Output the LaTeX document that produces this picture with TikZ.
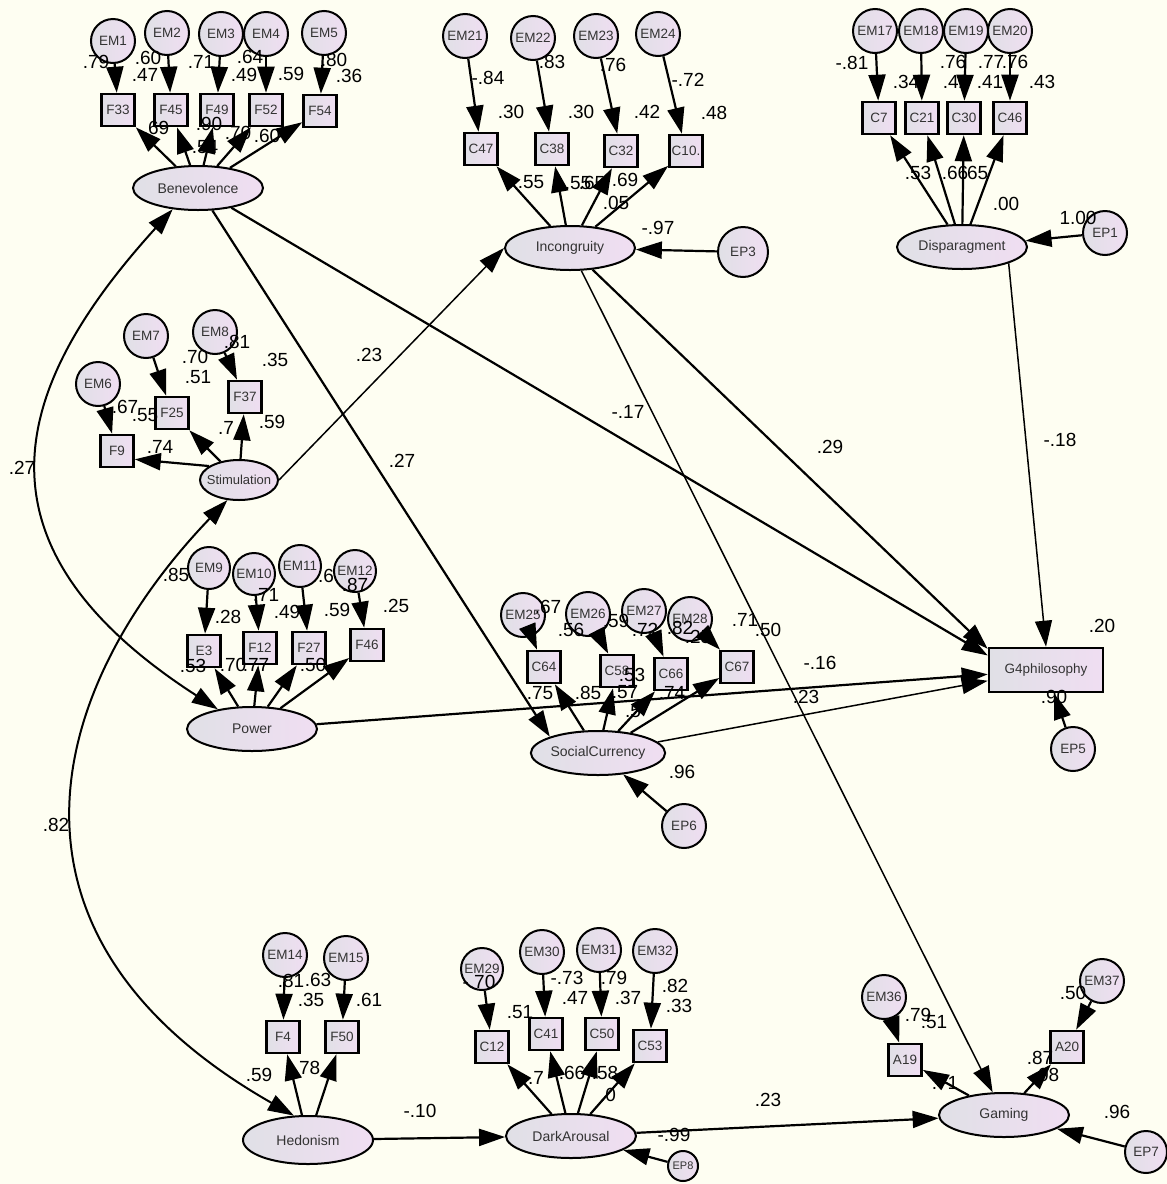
\documentclass[tikz,border=0pt]{standalone}
\usepackage{fontspec}
\setmainfont{Liberation Sans}
\usetikzlibrary{arrows.meta,shapes.geometric}

\definecolor{bgcol}{RGB}{254,254,242}
\definecolor{fillL}{RGB}{224,224,230}
\definecolor{fillR}{RGB}{240,222,242}

\begin{document}
\begin{tikzpicture}[x=1pt, y=-1pt, >={Triangle[length=26pt,width=17pt]},
    every node/.style={text=black!80},
    lat/.style={ellipse, draw, line width=2pt, left color=fillL, right color=fillR,
        minimum width=130pt, minimum height=44pt, inner sep=0pt, font=\fontsize{14}{14}\selectfont},
    obs/.style={rectangle, draw, line width=2.6pt, left color=fillL, right color=fillR,
        minimum width=33pt, minimum height=32pt, inner sep=0pt, font=\fontsize{13.5}{13.5}\selectfont},
    err/.style={circle, draw, line width=2pt, left color=fillL, right color=fillR,
        minimum size=44pt, inner sep=0pt, font=\fontsize{13.5}{13.5}\selectfont},
    reg/.style={->, line width=2.2pt},
    cov/.style={<->, line width=2pt},
    lab/.style={font=\fontsize{19}{19}\selectfont, inner sep=0pt, text=black}]

    \fill[bgcol] (0,0) rectangle (1167,1184);
    \useasboundingbox (0,0) rectangle (1167,1184);

    % --- Benevolence ---
    \node[lat] (ben) at (198,188) {Benevolence};
    \node[obs] (f33) at (118,110) {F33};
    \node[obs] (f45) at (171,110) {F45};
    \node[obs] (f49) at (217,110) {F49};
    \node[obs] (f52) at (266,110) {F52};
    \node[obs] (f54) at (320,111) {F54};
    \node[err] (em1) at (113,41) {EM1};
    \node[err] (em2) at (167,33) {EM2};
    \node[err] (em3) at (221,34) {EM3};
    \node[err] (em4) at (266,34) {EM4};
    \node[err] (em5) at (324,33) {EM5};

    % --- Incongruity ---
    \node[lat] (inc) at (570,248) {Incongruity};
    \node[obs] (c47) at (481,149) {C47};
    \node[obs] (c38) at (552,149) {C38};
    \node[obs] (c32) at (621,151) {C32};
    \node[obs] (c10) at (686,151) {C10.};
    \node[err] (em21) at (465,36) {EM21};
    \node[err] (em22) at (533,38) {EM22};
    \node[err] (em23) at (596,36) {EM23};
    \node[err] (em24) at (658,34) {EM24};
    \node[ellipse, err, minimum width=50pt, minimum height=40pt] (ep3) at (743,252) {EP3};

    % --- Disparagment ---
    \node[lat] (dis) at (962,247) {Disparagment};
    \node[obs] (c7) at (879,118) {C7};
    \node[obs] (c21) at (922,118) {C21};
    \node[obs] (c30) at (964,118) {C30};
    \node[obs] (c46) at (1010,118) {C46};
    \node[err] (em17) at (875,31) {EM17};
    \node[err] (em18) at (921,31) {EM18};
    \node[err] (em19) at (966,31) {EM19};
    \node[err] (em20) at (1010,31) {EM20};
    \node[ellipse, err, minimum width=44pt, minimum height=34pt] (ep1) at (1105,233) {EP1};

    % --- Stimulation ---
    \node[lat, minimum width=78pt, minimum height=40pt] (sti) at (239,480) {\makebox[0pt]{\fontsize{13}{13}\selectfont Stimulation}};
    \node[obs] (f25) at (172,413) {F25};
    \node[obs] (f37) at (245,397) {F37};
    \node[obs] (f9) at (117,451) {F9};
    \node[err] (em7) at (146,336) {EM7};
    \node[err] (em8) at (215,332) {EM8};
    \node[err] (em6) at (98,384) {EM6};

    % --- Power ---
    \node[lat] (pow) at (252,729) {Power};
    \node[obs] (e3) at (204,651) {E3};
    \node[obs] (f12) at (260,648) {F12};
    \node[obs] (f27) at (309,648) {F27};
    \node[obs] (f46) at (367,645) {F46};
    \node[err, minimum size=42pt] (em9) at (209,568) {EM9};
    \node[err, minimum size=42pt] (em10) at (254,574) {EM10};
    \node[err, minimum size=42pt] (em11) at (300,566) {EM11};
    \node[err, minimum size=42pt] (em12) at (355,571) {EM12};

    % --- SocialCurrency ---
    \node[lat] (soc) at (598,753) {SocialCurrency};
    \node[obs] (c64) at (544,667) {C64};
    \node[obs] (c58) at (617,671) {C58};
    \node[obs] (c66) at (671,674) {C66};
    \node[obs] (c67) at (737,667) {C67};
    \node[err] (em25) at (523,615) {EM25};
    \node[err] (em26) at (588,614) {EM26};
    \node[err] (em27) at (644,611) {EM27};
    \node[err] (em28) at (690,619) {EM28};
    \node[err] (ep6) at (684,826) {EP6};

    % --- G4philosophy ---
    \node[obs, minimum width=114pt, minimum height=44pt, font=\fontsize{13.5}{13.5}\selectfont] (gphil) at (1046,670) {G4philosophy};
    \node[err] (ep5) at (1073,749) {EP5};

    % --- Hedonism ---
    \node[lat, minimum height=48pt] (hed) at (308,1140) {Hedonism};
    \node[obs] (f4) at (283,1037) {F4};
    \node[obs] (f50) at (342,1037) {F50};
    \node[err] (em14) at (285,955) {EM14};
    \node[err] (em15) at (346,958) {EM15};

    % --- DarkArousal ---
    \node[lat] (dar) at (571,1136) {DarkArousal};
    \node[obs] (c12) at (492,1047) {C12};
    \node[obs] (c41) at (546,1034) {C41};
    \node[obs] (c50) at (602,1034) {C50};
    \node[obs] (c53) at (650,1046) {C53};
    \node[err, minimum size=42pt] (em29) at (482,969) {EM29};
    \node[err] (em30) at (542,952) {EM30};
    \node[err] (em31) at (599,950) {EM31};
    \node[err] (em32) at (655,951) {EM32};
    \node[err, minimum size=30pt, font=\fontsize{11}{11}\selectfont] (ep8) at (683,1166) {EP8};

    % --- Gaming ---
    \node[lat] (gam) at (1004,1115) {Gaming};
    \node[obs] (a19) at (905,1060) {A19};
    \node[obs] (a20) at (1067,1047) {A20};
    \node[err] (em36) at (884,997) {EM36};
    \node[err] (em37) at (1102,981) {EM37};
    \node[ellipse, err, minimum width=42pt, minimum height=30pt] (ep7) at (1146,1152) {EP7};

    % Ladungen
    \draw[reg] (ben) -- (f33);
    \draw[reg] (ben) -- (f45);
    \draw[reg] (ben) -- (f49);
    \draw[reg] (ben) -- (f52);
    \draw[reg] (ben) -- (f54);
    \draw[reg] (inc) -- (c47);
    \draw[reg] (inc) -- (c38);
    \draw[reg] (inc) -- (c32);
    \draw[reg] (inc) -- (c10);
    \draw[reg] (dis) -- (c7);
    \draw[reg] (dis) -- (c21);
    \draw[reg] (dis) -- (c30);
    \draw[reg] (dis) -- (c46);
    \draw[reg] (sti.155) -- (f9.-25);
    \draw[reg] (sti) -- (f25);
    \draw[reg] (sti) -- (f37);
    \draw[reg] (pow) -- (e3);
    \draw[reg] (pow) -- (f12);
    \draw[reg] (pow) -- (f27);
    \draw[reg] (pow) -- (f46);
    \draw[reg] (soc) -- (c64);
    \draw[reg] (soc) -- (c58);
    \draw[reg] (soc) -- (c66);
    \draw[reg] (soc) -- (c67);
    \draw[reg] (hed) -- (f4);
    \draw[reg] (hed) -- (f50);
    \draw[reg] (dar) -- (c12);
    \draw[reg] (dar) -- (c41);
    \draw[reg] (dar) -- (c50);
    \draw[reg] (dar) -- (c53);
    \draw[reg] (gam) -- (a19);
    \draw[reg] (gam) -- (a20);

    % Messfehler
    \draw[reg] (em1) -- (f33);
    \draw[reg] (em2) -- (f45);
    \draw[reg] (em3) -- (f49);
    \draw[reg] (em4) -- (f52);
    \draw[reg] (em5) -- (f54);
    \draw[reg] (em21) -- (c47);
    \draw[reg] (em22) -- (c38);
    \draw[reg] (em23) -- (c32);
    \draw[reg] (em24) -- (c10);
    \draw[reg] (em17) -- (c7);
    \draw[reg] (em18) -- (c21);
    \draw[reg] (em19) -- (c30);
    \draw[reg] (em20) -- (c46);
    \draw[reg] (em6) -- (f9);
    \draw[reg] (em7) -- (f25);
    \draw[reg] (em8) -- (f37);
    \draw[reg] (em9) -- (e3);
    \draw[reg] (em10) -- (f12);
    \draw[reg] (em11) -- (f27);
    \draw[reg] (em12) -- (f46);
    \draw[reg] (em25) -- (c64);
    \draw[reg] (em26) -- (c58);
    \draw[reg] (em27) -- (c66);
    \draw[reg] (em28) -- (c67);
    \draw[reg] (em14) -- (f4);
    \draw[reg] (em15) -- (f50);
    \draw[reg] (em29) -- (c12);
    \draw[reg] (em30) -- (c41);
    \draw[reg] (em31) -- (c50);
    \draw[reg] (em32) -- (c53);
    \draw[reg] (em36) -- (a19);
    \draw[reg] (em37) -- (a20);

    % Residuen
    \draw[reg] (ep1) -- (dis);
    \draw[reg] (ep3) -- (inc);
    \draw[reg] (ep5) -- (gphil);
    \draw[reg] (ep6) -- (soc);
    \draw[reg] (ep7) -- (gam);
    \draw[reg] (ep8) -- (dar);

    % Strukturpfade
    \draw[reg] (ben) -- (gphil.166);
    \draw[reg] (ben) -- (soc.north west);
    \draw[reg] (inc) -- (gphil.160);
    \draw[reg, line width=1.5pt] (inc) -- (gam);
    \draw[reg, line width=1.5pt] (dis.south east) -- (gphil.north);
    \draw[reg] (pow) -- (gphil);
    \draw[reg, line width=1.5pt] (soc) -- (gphil);
    \draw[reg, line width=1.5pt] (sti.east) -- (inc.west);
    \draw[reg] (hed) -- (dar);
    \draw[reg] (dar) -- (gam);

    % Kovarianzen
    \draw[cov] (ben.220) .. controls (16,382) and (-42,542) .. (pow.150);
    \draw[cov] (sti.240) .. controls (49,686) and (-25,934) .. (hed.120);

    % Koeffizienten
    \foreach \x/\y/\t [count=\i] in {96/62/.79, 148/58/.60, 145/75/.47, 201/62/.71, 250/57/.64,
        244/75/.49, 291/74/.59, 334/60/.80, 349/76/.36, 156/128/.69, 209/124/.90, 205/147/.54,
        238/133/.70, 267/136/.60}
        \node[lab] (bl\i) at (\x,\y) {\t};
    \foreach \x/\y/\t [count=\i] in {488/78/-.84, 552/62/.83, 613/65/.76, 688/80/-.72, 511/112/.30,
        581/112/.30, 647/112/.42, 714/113/.48, 531/182/.55, 592/183/.65, 578/183/.55, 625/180/.69,
        616/203/.05, 658/228/-.97}
        \node[lab] (il\i) at (\x,\y) {\t};
    \foreach \x/\y/\t [count=\i] in {852/63/-.81, 906/82/.34, 953/62/.76, 956/82/.42, 991/62/.77,
        1015/62/.76, 990/82/.41, 1042/82/.43, 918/173/.53, 955/173/.66, 975/173/.65, 1006/204/.00,
        1078/218/1.00}
        \node[lab] (dl\i) at (\x,\y) {\t};
    \foreach \x/\y/\t [count=\i] in {195/357/.70, 237/342/.81, 275/360/.35, 198/377/.51, 125/407/.67,
        145/415/.55, 226/428/.7, 272/422/.59, 160/447/.74}
        \node[lab] (sl\i) at (\x,\y) {\t};
    \foreach \x/\y/\t [count=\i] in {176/575/.85, 266/595/.71, 326/576/.6, 355/585/.87, 228/617/.28,
        287/612/.49, 337/610/.59, 396/606/.25, 193/666/.53, 233/665/.70, 256/665/.77, 313/665/.50}
        \node[lab] (pl\i) at (\x,\y) {\t};
    \foreach \x/\y/\t [count=\i] in {548/607/.67, 571/630/.56, 616/621/.59, 645/630/.72, 680/628/.82,
        698/637/.25, 745/620/.71, 768/630/.50, 540/693/.75, 588/693/.85, 632/675/.53, 625/692/.57,
        633/711/.5, 672/693/.74, 682/772/.96}
        \node[lab] (cl\i) at (\x,\y) {\t};
    \foreach \x/\y/\t [count=\i] in {291/981/.81, 318/980/.63, 311/1000/.35, 369/1000/.61,
        259/1075/.59, 307/1068/.78}
        \node[lab] (hl\i) at (\x,\y) {\t};
    \foreach \x/\y/\t [count=\i] in {479/982/-.70, 520/1012/.51, 567/978/-.73, 614/978/.79,
        575/998/.47, 628/998/.37, 675/986/.82, 679/1006/.33, 536/1078/.7, 572/1073/.66,
        605/1073/.58, 608/1095/.0, 674/1135/-.99}
        \node[lab] (al\i) at (\x,\y) {\t};
    \foreach \x/\y/\t [count=\i] in {918/1015/.79, 934/1022/.51, 945/1083/.71, 1073/993/.50,
        1040/1058/.87, 1046/1075/.08, 1117/1112/.96}
        \node[lab] (gl\i) at (\x,\y) {\t};
    \foreach \x/\y/\t [count=\i] in {22/468/.27, 369/355/.23, 628/412/-.17, 402/461/.27, 830/447/.29,
        1060/440/-.18, 820/663/-.16, 806/697/.23, 1102/626/.20, 1054/697/.90, 56/825/.82,
        420/1111/-.10, 768/1100/.23}
        \node[lab] (ml\i) at (\x,\y) {\t};
\end{tikzpicture}
\end{document}
